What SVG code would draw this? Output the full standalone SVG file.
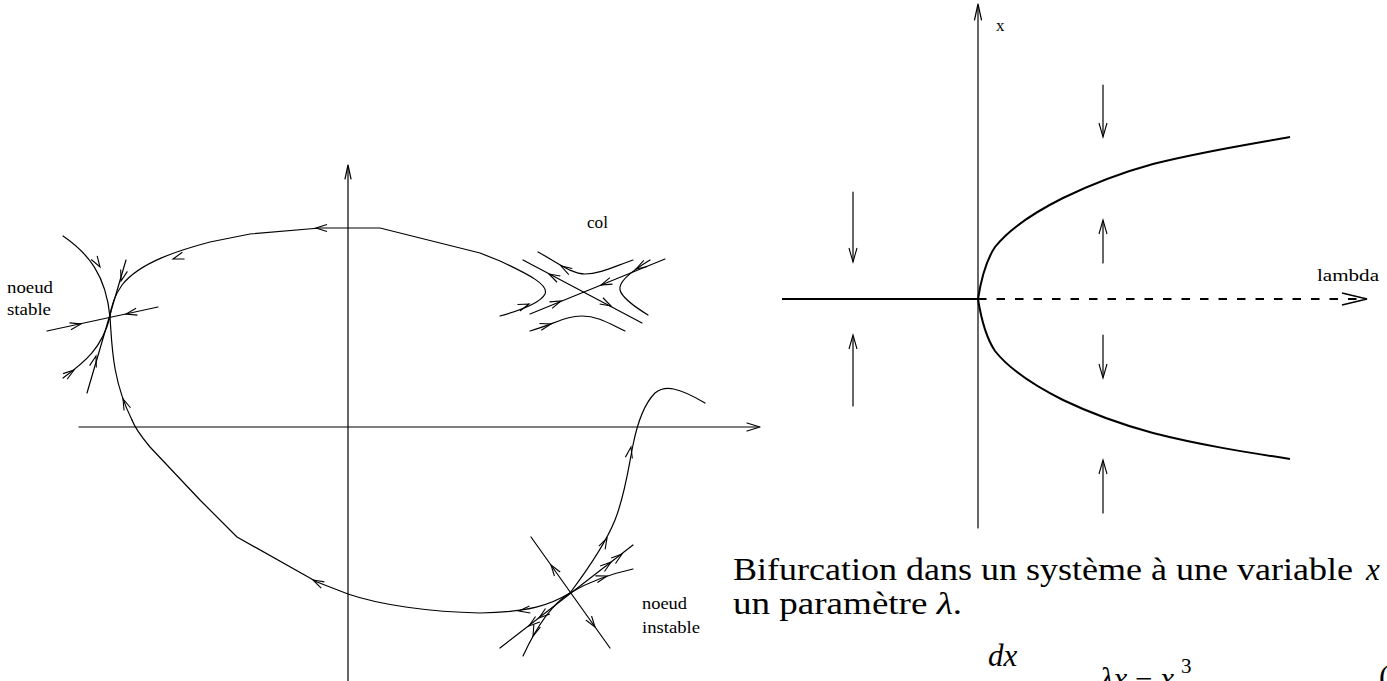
<svg xmlns="http://www.w3.org/2000/svg" xmlns:xlink="http://www.w3.org/1999/xlink" width="1387" height="681" viewBox="0 0 1387 681">
<style>
.ln{fill:none;stroke:#000;stroke-width:1.2;stroke-linejoin:round;stroke-linecap:round}
.th{fill:none;stroke:#000;stroke-width:2}
.dash{fill:none;stroke:#000;stroke-width:2;stroke-dasharray:8.5 10}
text{font-family:'Liberation Serif','Times New Roman','DejaVu Serif',serif;fill:#000}
.lab{font-size:17px}
.cap{font-size:31px}
.it{font-style:italic}
</style>
<defs>
<path id="ah" d="M-11,-3.5 L0,0 L-11,3.5" fill="none" stroke="#000" stroke-width="1.1" stroke-linejoin="miter"/>
<path id="av" d="M-4,-14 L0,0 L4,-14" fill="none" stroke="#000" stroke-width="1.1"/>
</defs>
<rect width="1387" height="681" fill="#fff"/>

<g id="left-axes">
<path class="ln" d="M348,681 L348,166"/>
<path class="ln" d="M345,179 L348,165 L351,179"/>
<path class="ln" d="M79,427 L759,427"/>
<path class="ln" d="M747,423 L760,427 L747,431"/>
</g>

<g id="trajectories">
<path class="ln" d="M500,316 C518,311 540,304 545,294 C549,285 530,275 500,261 L480,253 L440,243 L380,228 L320,228 L250,234 L210,242 C180,250 140,262 122,285 C115,295 111,305 110,317"/>
<use xlink:href="#ah" transform="translate(529,304) rotate(-20)"/>
<use xlink:href="#ah" transform="translate(316,228) rotate(180)"/>
<use xlink:href="#ah" transform="translate(173,259) rotate(162)"/>
<path class="ln" d="M570,593 C550,605 530,612 480,613 C430,612 380,605 348,594 L317,582 L237,537 L200,500 L150,447 C140,435 135,428 132,420"/>
<use xlink:href="#ah" transform="translate(519,611) rotate(172)"/>
<use xlink:href="#ah" transform="translate(313,580) rotate(207)"/>
<path class="ln" d="M570,593 C585,573 605,545 615,520 C625,495 628,470 633,445 C637,425 643,405 655,393 C665,385 678,387 705,403"/>
<use xlink:href="#ah" transform="translate(607,538) rotate(-63)"/>
<use xlink:href="#ah" transform="translate(631,447) rotate(-79)"/>
</g>

<g id="noeud-stable">
<path class="ln" d="M63,236 C88,253 106,275 110,317 C112,345 112,380 132,420"/>
<use xlink:href="#ah" transform="translate(100,267) rotate(58)"/>
<use xlink:href="#ah" transform="translate(123,399) rotate(-113)"/>
<path class="ln" d="M126,260 L87,393"/>
<use xlink:href="#ah" transform="translate(121,281) rotate(106)"/>
<use xlink:href="#ah" transform="translate(96,356) rotate(-74)"/>
<path class="ln" d="M47,331 L158,307"/>
<use xlink:href="#ah" transform="translate(81,324) rotate(-12)"/>
<use xlink:href="#ah" transform="translate(126,314) rotate(168)"/>
<path class="ln" d="M63,378 C85,362 102,348 110,317"/>
<use xlink:href="#ah" transform="translate(74,370) rotate(-36)"/>
<text class="lab" x="7" y="293" textLength="46" lengthAdjust="spacingAndGlyphs">noeud</text>
<text class="lab" x="7" y="315" textLength="44" lengthAdjust="spacingAndGlyphs">stable</text>
</g>

<g id="col">
<path class="ln" d="M523,260 L642,323"/>
<use xlink:href="#ah" transform="translate(549,274) rotate(208)"/>
<use xlink:href="#ah" transform="translate(611,306) rotate(28)"/>
<path class="ln" d="M530,314 L665,259"/>
<use xlink:href="#ah" transform="translate(561,301) rotate(-22)"/>
<use xlink:href="#ah" transform="translate(601,285) rotate(158)"/>
<path class="ln" d="M538,252 C560,264 572,274 585,274 C600,274 615,266 633,260"/>
<use xlink:href="#ah" transform="translate(561,266) rotate(210)"/>
<path class="ln" d="M650,260 C630,272 618,282 620,290 C622,298 635,307 648,315"/>
<use xlink:href="#ah" transform="translate(636,269) rotate(150)"/>
<path class="ln" d="M530,331 C555,324 565,316 582,316 C598,316 610,324 625,331"/>
<use xlink:href="#ah" transform="translate(551,324) rotate(-15)"/>
<text class="lab" x="587" y="228" textLength="21" lengthAdjust="spacingAndGlyphs">col</text>
</g>

<g id="noeud-instable">
<path class="ln" d="M531,537 L610,648"/>
<use xlink:href="#ah" transform="translate(551,565) rotate(-125)"/>
<use xlink:href="#ah" transform="translate(595,627) rotate(55)"/>
<path class="ln" d="M500,648 L633,545"/>
<use xlink:href="#ah" transform="translate(611,562) rotate(-38)"/>
<use xlink:href="#ah" transform="translate(622,554) rotate(-38)"/>
<use xlink:href="#ah" transform="translate(529,626) rotate(142)"/>
<use xlink:href="#ah" transform="translate(539,618) rotate(142)"/>
<path class="ln" d="M523,656 C535,630 550,605 570,593 C590,581 610,574 633,569"/>
<use xlink:href="#ah" transform="translate(533,636) rotate(112)"/>
<use xlink:href="#ah" transform="translate(607,576) rotate(-17)"/>
<text class="lab" x="642" y="609" textLength="45" lengthAdjust="spacingAndGlyphs">noeud</text>
<text class="lab" x="642" y="633" textLength="58" lengthAdjust="spacingAndGlyphs">instable</text>
</g>

<g id="right-axes">
<path class="ln" d="M978,528 L978,5"/>
<path class="ln" d="M974.5,20 L978,4 L981.5,20"/>
<text class="lab" x="996" y="31">x</text>
<path class="th" d="M782,299 L978,299"/>
<path class="dash" d="M978,299 L1366,299"/>
<path fill="none" stroke="#000" stroke-width="1.5" d="M1342,293 L1367,299 L1342,305"/>
<text class="lab" x="1317" y="281" textLength="62" lengthAdjust="spacingAndGlyphs">lambda</text>
</g>

<g id="bifurcation">
<path class="th" d="M978,299 C981,280 985,262 995,247 C1010,228 1035,212 1063,198 C1090,185 1120,173 1153,164 C1200,152 1245,145 1290,137"/>
<path class="th" d="M978,299 C981,318 985,336 995,351 C1010,370 1035,386 1063,400 C1090,413 1120,424 1153,433 C1200,445 1245,452 1290,459"/>
</g>

<g id="flow-arrows">
<path class="ln" d="M853,192 L853,261"/><use xlink:href="#av" transform="translate(853,262)"/>
<path class="ln" d="M853,406 L853,336"/><use xlink:href="#av" transform="translate(853,335) rotate(180)"/>
<path class="ln" d="M1103,85 L1103,136"/><use xlink:href="#av" transform="translate(1103,137)"/>
<path class="ln" d="M1103,263 L1103,221"/><use xlink:href="#av" transform="translate(1103,220) rotate(180)"/>
<path class="ln" d="M1103,335 L1103,377"/><use xlink:href="#av" transform="translate(1103,378)"/>
<path class="ln" d="M1103,513 L1103,461"/><use xlink:href="#av" transform="translate(1103,460) rotate(180)"/>
</g>

<g id="caption">
<text class="cap" x="733" y="580" textLength="620" lengthAdjust="spacingAndGlyphs">Bifurcation dans un système à une variable</text>
<text class="cap it" x="1366" y="580">x</text>
<text class="cap" x="733" y="614" textLength="229" lengthAdjust="spacingAndGlyphs">un paramètre <tspan class="it">λ</tspan>.</text>
<text class="cap it" x="988" y="666">dx</text>
<text class="cap" x="1100" y="689"><tspan class="it">λx</tspan> − <tspan class="it">x</tspan></text>
<text class="cap" x="1181" y="673" style="font-size:21px">3</text>
<text class="cap" x="1379" y="687">(</text>
</g>
</svg>
